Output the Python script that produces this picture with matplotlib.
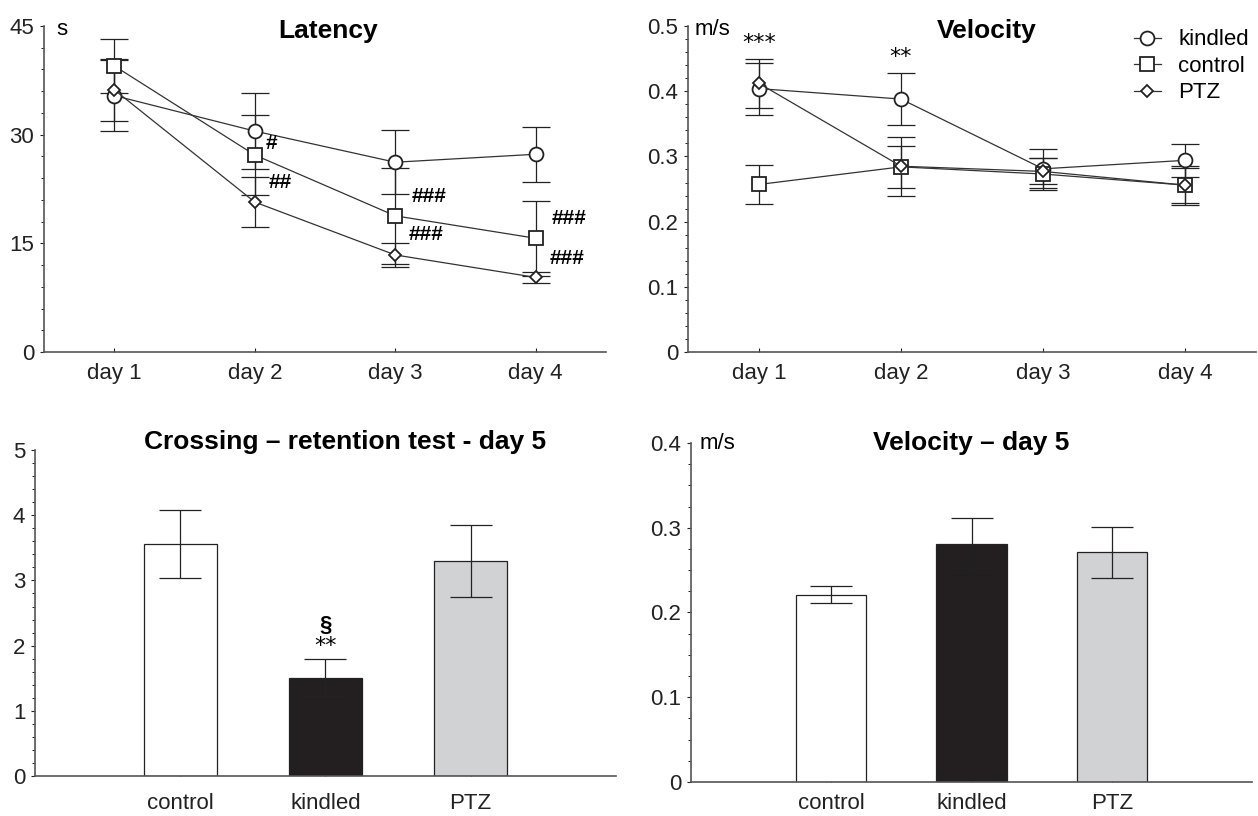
import numpy as np
import matplotlib.pyplot as plt
from matplotlib.ticker import MultipleLocator

plt.rcParams['font.family'] = ['Liberation Sans', 'DejaVu Sans']

# --- data ---
days = ["day 1", "day 2", "day 3", "day 4"]

lat_kindled = [35.4, 30.5, 26.2, 27.3]
lat_kindled_err = [4.9, 5.2, 4.4, 3.8]
lat_control = [39.5, 27.2, 18.8, 15.7]
lat_control_err = [3.7, 5.5, 6.6, 5.2]
lat_ptz = [36.2, 20.7, 13.4, 10.3]
lat_ptz_err = [4.3, 3.4, 1.6, 0.8]

vel_kindled = [0.404, 0.388, 0.281, 0.294]
vel_kindled_err = [0.040, 0.040, 0.030, 0.025]
vel_control = [0.257, 0.284, 0.273, 0.256]
vel_control_err = [0.030, 0.032, 0.025, 0.027]
vel_ptz = [0.412, 0.285, 0.277, 0.256]
vel_ptz_err = [0.038, 0.045, 0.020, 0.030]

groups = ["control", "kindled", "PTZ"]
crossing = [3.56, 1.51, 3.30]
crossing_err = [0.52, 0.29, 0.55]
vel5 = [0.221, 0.281, 0.271]
vel5_err = [0.010, 0.030, 0.030]
bar_colors = ["white", "#231f20", "#d1d2d4"]

AX_COL = "#555555"
LINE_COL = "#333333"
TICK_FS = 16
TITLE_FS = 19


def style_axes(ax):
    for s in ["top", "right"]:
        ax.spines[s].set_visible(False)
    for s in ["left", "bottom"]:
        ax.spines[s].set_color(AX_COL)
        ax.spines[s].set_linewidth(1.2)
    ax.tick_params(axis="both", labelsize=TICK_FS, colors="#222222", length=3, width=0.8)
    ax.tick_params(axis="y", which="major", length=3, direction="out", pad=4)
    ax.tick_params(axis="y", which="minor", length=2, width=0.6)
    ax.tick_params(axis="x", length=3, direction="in", pad=8)


def line_panel(ax, series, ylim, major, minor):
    x = np.arange(1, 5)
    for vals, errs, marker, ms, label in series:
        ax.errorbar(x, vals, yerr=errs, fmt="none", ecolor="#222222", elinewidth=0.9,
                    capsize=10, capthick=0.9, zorder=2)
        ax.plot(x, vals, color=LINE_COL, lw=0.9, marker=marker, ms=ms, mfc="white",
                mec="#222222", mew=1.3, label=label, zorder=3)
    ax.set_xlim(0.5, 4.5)
    ax.set_ylim(*ylim)
    ax.set_xticks(x)
    ax.set_xticklabels(days)
    ax.yaxis.set_major_locator(MultipleLocator(major))
    ax.yaxis.set_minor_locator(MultipleLocator(minor))
    style_axes(ax)


def bar_panel(ax, vals, errs, ylim, major, minor, pad):
    x = np.arange(1, 4)
    ax.bar(x, vals, width=0.5, color=bar_colors, edgecolor="#222222", linewidth=0.9, zorder=2)
    ax.errorbar(x, vals, yerr=errs, fmt="none", ecolor="#222222", elinewidth=0.9,
                capsize=15, capthick=0.9, zorder=3)
    ax.set_xlim(0, 4)
    ax.set_ylim(*ylim)
    ax.set_xticks(x)
    ax.set_xticklabels(groups)
    ax.yaxis.set_major_locator(MultipleLocator(major))
    ax.yaxis.set_minor_locator(MultipleLocator(minor))
    style_axes(ax)
    ax.tick_params(axis="x", pad=pad)


def short_fmt(v, p):
    return "0" if v == 0 else f"{v:.1f}"


fig = plt.figure(figsize=(12.58, 8.16), dpi=100)

# Latency
ax1 = fig.add_axes([0.035, 0.5686, 0.4467, 0.3995])
line_panel(ax1, [(lat_kindled, lat_kindled_err, "o", 10, "kindled"),
                 (lat_control, lat_control_err, "s", 10, "control"),
                 (lat_ptz, lat_ptz_err, "D", 6.5, "PTZ")],
           (0, 45), 15, 3)
ax1.text(0.505, 0.985, "Latency", transform=ax1.transAxes, ha="center", va="center",
         fontsize=TITLE_FS, fontweight="bold")
ax1.text(0.022, 0.99, "s", transform=ax1.transAxes, ha="left", va="center", fontsize=TICK_FS)
for xx, yy, t in [(2.12, 28.8, "#"), (2.18, 23.4, "##"), (3.24, 21.4, "###"),
                  (3.22, 16.2, "###"), (4.24, 18.5, "###"), (4.22, 12.9, "###")]:
    ax1.text(xx, yy, t, ha="center", va="center", fontsize=15, fontweight="bold")

# Velocity
ax2 = fig.add_axes([0.5469, 0.5686, 0.4515, 0.3995])
line_panel(ax2, [(vel_kindled, vel_kindled_err, "o", 10, "kindled"),
                 (vel_control, vel_control_err, "s", 10, "control"),
                 (vel_ptz, vel_ptz_err, "D", 6.5, "PTZ")],
           (0, 0.5), 0.1, 0.02)
ax2.yaxis.set_major_formatter(plt.FuncFormatter(short_fmt))
ax2.text(0.525, 0.985, "Velocity", transform=ax2.transAxes, ha="center", va="center",
         fontsize=TITLE_FS, fontweight="bold")
ax2.text(0.012, 0.99, "m/s", transform=ax2.transAxes, ha="left", va="center", fontsize=TICK_FS)
ax2.text(1, 0.474, "***", ha="center", va="center", fontsize=16, family="DejaVu Sans")
ax2.text(2, 0.452, "**", ha="center", va="center", fontsize=16, family="DejaVu Sans")
ax2.legend(loc="upper left", bbox_to_anchor=(0.785, 0.99), frameon=False, fontsize=TICK_FS,
           handlelength=1.2, handletextpad=0.8, labelspacing=0.25, borderaxespad=0,
           borderpad=0)

# Crossing
ax3 = fig.add_axes([0.0278, 0.049, 0.4618, 0.3995])
bar_panel(ax3, crossing, crossing_err, (0, 5), 1, 0.2, 12)
ax3.text(0.534, 1.025, "Crossing \u2013 retention test - day 5", transform=ax3.transAxes,
         ha="center", va="center", fontsize=TITLE_FS, fontweight="bold")
ax3.text(2, 2.31, "\u00a7", ha="center", va="center", fontsize=16, fontweight="bold")
ax3.text(2, 2.0, "**", ha="center", va="center", fontsize=16, family="DejaVu Sans")

# Velocity day 5
ax4 = fig.add_axes([0.5493, 0.0417, 0.446, 0.4154])
bar_panel(ax4, vel5, vel5_err, (0, 0.4), 0.1, 0.025, 8)
ax4.yaxis.set_major_formatter(plt.FuncFormatter(short_fmt))
ax4.text(0.5, 1.0, "Velocity \u2013 day 5", transform=ax4.transAxes, ha="center",
         va="center", fontsize=TITLE_FS, fontweight="bold")
ax4.text(0.015, 1.0, "m/s", transform=ax4.transAxes, ha="left", va="center", fontsize=TICK_FS)

fig.savefig("out.png", dpi=100)
